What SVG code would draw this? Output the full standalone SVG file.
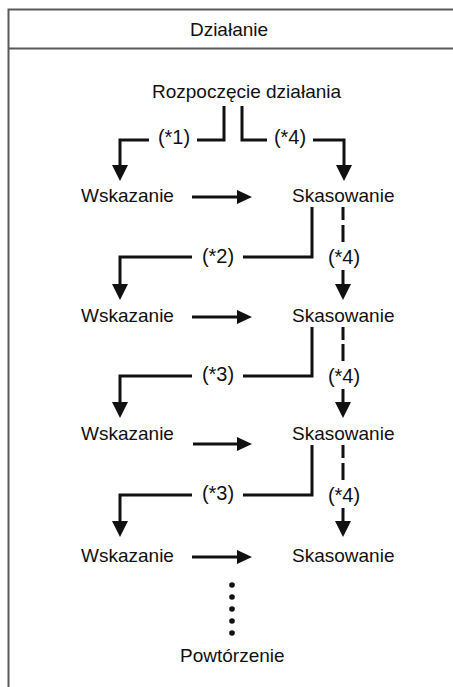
<svg xmlns="http://www.w3.org/2000/svg" width="453" height="687" viewBox="0 0 453 687">
<style>
.t{font-family:"Liberation Sans",Arial,sans-serif;font-size:19px;fill:#111}
.l{font-family:"Liberation Sans",Arial,sans-serif;font-size:20px;fill:#111;text-anchor:middle}
.c{fill:none;stroke:#111;stroke-width:3;stroke-linejoin:miter}
.a{marker-end:url(#ad)}
.h{marker-end:url(#ah)}
.frame{fill:none;stroke:#5a5a5a;stroke-width:2}
</style>
<defs>
<marker id="ad" viewBox="0 0 16 16" markerWidth="16" markerHeight="16" refX="4" refY="8" orient="auto" markerUnits="userSpaceOnUse"><path d="M0,0 L16,8 L0,16 Z" fill="#111"/></marker>
<marker id="ah" viewBox="0 0 15 14" markerWidth="15" markerHeight="14" refX="3" refY="7" orient="auto" markerUnits="userSpaceOnUse"><path d="M0,0 L15,7 L0,14 Z" fill="#111"/></marker>
</defs>
<rect width="453" height="687" fill="#fff"/>
<g id="frame">
<path class="frame" d="M8.5,687 V9.5 H453 M8.5,48.5 H453"/>
<text class="t" x="229" y="36" text-anchor="middle">Działanie</text>
</g>
<g id="start"><text class="t" x="152" y="98">Rozpoczęcie działania</text></g>
<g id="wsk1"><text class="t" x="81" y="202">Wskazanie</text></g>
<g id="sks1"><text class="t" x="292" y="202">Skasowanie</text></g>
<g id="wsk2"><text class="t" x="81" y="322">Wskazanie</text></g>
<g id="sks2"><text class="t" x="292" y="322">Skasowanie</text></g>
<g id="wsk3"><text class="t" x="81" y="440">Wskazanie</text></g>
<g id="sks3"><text class="t" x="292" y="440">Skasowanie</text></g>
<g id="wsk4"><text class="t" x="81" y="562">Wskazanie</text></g>
<g id="sks4"><text class="t" x="292" y="562">Skasowanie</text></g>
<g id="repeat">
<g fill="#111"><circle cx="232" cy="585" r="2.8"/><circle cx="232" cy="597" r="2.8"/><circle cx="232" cy="609" r="2.8"/><circle cx="232" cy="621" r="2.8"/><circle cx="232" cy="633" r="2.8"/></g>
<text class="t" x="180" y="662">Powtórzenie</text>
</g>
<g id="connectors">
<!-- row 1 -->
<path class="c" d="M224,106 V140 H197"/>
<path class="c a" d="M149,140 H120 V169"/>
<path class="c" d="M242,106 V140 H267"/>
<path class="c a" d="M313,140 H344 V169"/>
<text class="l" x="174" y="144">(*1)</text>
<text class="l" x="290" y="144">(*4)</text>
<path class="c h" d="M192,197 H240"/>
<!-- row 2 -->
<path class="c" d="M312,207 V257 H243"/>
<path class="c a" d="M192,257 H120 V288"/>
<text class="l" x="218" y="263">(*2)</text>
<path class="c" d="M343,207 V220 M343,225 V242"/>
<path class="c a" d="M343,270 V288"/>
<text class="l" x="344" y="264">(*4)</text>
<path class="c h" d="M192,317 H240"/>
<!-- row 3 -->
<path class="c" d="M312,327 V376 H243"/>
<path class="c a" d="M192,376 H120 V406"/>
<text class="l" x="218" y="381">(*3)</text>
<path class="c" d="M343,327 V340 M343,344 V361"/>
<path class="c a" d="M343,389 V406"/>
<text class="l" x="344" y="383">(*4)</text>
<path class="c h" d="M193,444 H240"/>
<!-- row 4 -->
<path class="c" d="M312,445 V495 H243"/>
<path class="c a" d="M192,495 H120 V525"/>
<text class="l" x="218" y="500">(*3)</text>
<path class="c" d="M343,445 V458 M343,463 V480"/>
<path class="c a" d="M343,508 V525"/>
<text class="l" x="344" y="502">(*4)</text>
<path class="c h" d="M192,557 H240"/>
</g>
</svg>
